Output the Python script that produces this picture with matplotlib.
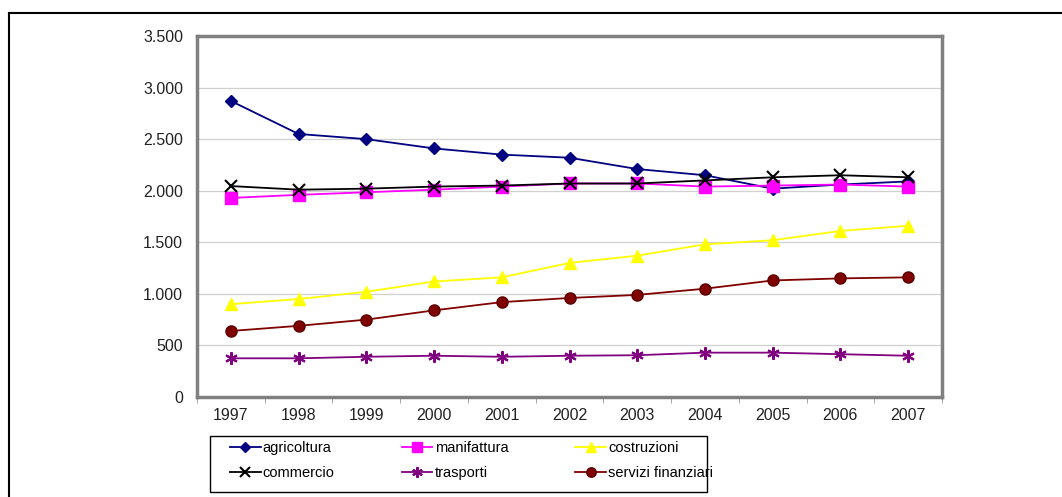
import matplotlib.pyplot as plt
from matplotlib.lines import Line2D
from matplotlib.patches import Rectangle

# ============================================================
#  DATA
# ============================================================
years = ['1997', '1998', '1999', '2000', '2001', '2002', '2003', '2004', '2005', '2006', '2007']

agricoltura = [2870, 2550, 2500, 2410, 2350, 2320, 2210, 2150, 2020, 2060, 2090]
manifattura = [1930, 1960, 1985, 2010, 2040, 2070, 2070, 2040, 2050, 2060, 2040]
costruzioni = [900, 950, 1020, 1120, 1160, 1300, 1370, 1480, 1520, 1610, 1660]
commercio = [2045, 2010, 2020, 2040, 2050, 2070, 2070, 2100, 2130, 2150, 2130]
trasporti = [375, 375, 390, 400, 390, 400, 405, 430, 430, 415, 400]
servizi = [640, 690, 750, 840, 920, 960, 990, 1050, 1130, 1150, 1160]

# ============================================================
#  PLOT
# ============================================================
plt.rcParams['font.family'] = ['Liberation Sans', 'DejaVu Sans']

W, H = 1062, 497
fig = plt.figure(figsize=(W / 100, H / 100), dpi=100)
ax = fig.add_axes([197 / W, 1 - 397 / H, 745 / W, 361 / H])

x = list(range(len(years)))
h_agr, = ax.plot(x, agricoltura, color='#000080', lw=1.3, marker='D', ms=6, label='agricoltura')
h_man, = ax.plot(x, manifattura, color='#FF00FF', lw=1.3, marker='s', ms=8, label='manifattura')
h_cos, = ax.plot(x, costruzioni, color='#FFFF00', lw=1.3, marker='^', ms=8, label='costruzioni')
h_com, = ax.plot(x, commercio, color='black', lw=1.3, marker='x', ms=8, mew=1.5, label='commercio')
h_tra, = ax.plot(x, trasporti, color='#800080', lw=1.3, marker=(6, 2, 0), ms=9, mew=1.5, label='trasporti')
h_ser, = ax.plot(x, servizi, color='#800000', mec='#5a0000', lw=1.3, marker='o', ms=8, label='servizi finanziari')

ax.set_xlim(-0.5, len(years) - 0.5)
ax.set_ylim(0, 3500)
ax.set_yticks(range(0, 3501, 500))
ax.set_yticklabels([f'{v:,}'.replace(',', '.') for v in range(0, 3501, 500)])
ax.set_xticks(x)
ax.set_xticklabels(years)
ax.set_xticks([i + 0.5 for i in range(-1, len(years))], minor=True)
ax.tick_params(axis='x', which='major', length=0, pad=8, labelsize=11.5, labelcolor='#222222')
ax.tick_params(axis='x', which='minor', length=4, color='#999999', direction='out')
ax.tick_params(axis='y', length=0, pad=10, labelsize=11.5, labelcolor='#222222')
ax.grid(axis='y', color='#d0d0d0', lw=0.9)
ax.set_axisbelow(True)
for s in ax.spines.values():
    s.set_color('#808080')
    s.set_linewidth(2.5)

# legend: matplotlib fills column-wise, so interleave rows
handles = [h_agr, h_com, h_man, h_tra, h_cos, h_ser]
leg = fig.legend(handles=handles, labels=[h.get_label() for h in handles],
                 loc='upper left', bbox_to_anchor=(230 / W, 1 - 441 / H), ncol=3,
                 frameon=False, fontsize=10.5,
                 handlelength=2.1, columnspacing=4.6, borderpad=0, labelspacing=0.75,
                 handletextpad=0.15, markerscale=0.85, borderaxespad=0)
# legend box drawn by hand (wider left margin than matplotlib's padding)
fig.add_artist(Rectangle((210 / W, 1 - 492 / H), 497 / W, 56 / H, fill=False,
                         edgecolor='black', lw=1.0, transform=fig.transFigure))

# outer frame lines
fig.add_artist(Line2D([9 / W, 1], [1 - 13 / H, 1 - 13 / H], color='black', lw=1.5))
fig.add_artist(Line2D([9 / W, 9 / W], [0, 1 - 13 / H], color='black', lw=1.5))

fig.savefig('out.png', dpi=100)
